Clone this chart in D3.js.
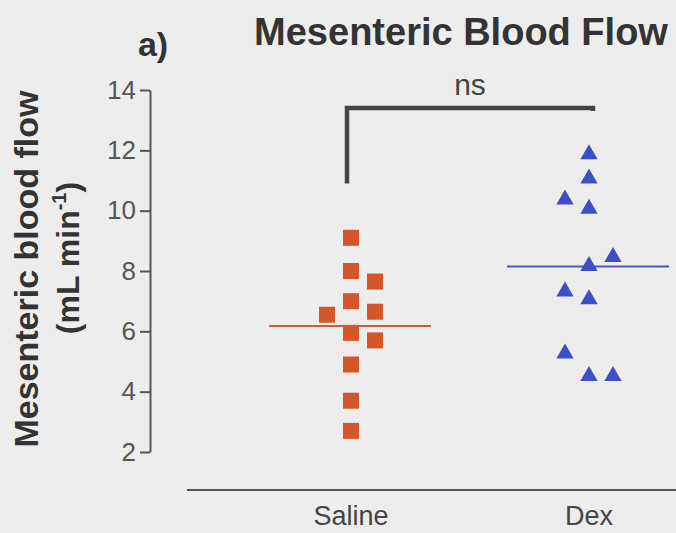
<!DOCTYPE html>
<meta charset="utf-8">
<style>
body { margin: 0; background: #ededed; }
svg { font-family: "Liberation Sans", Arial, sans-serif; }
.axis path, .axis line { stroke: #555; stroke-width: 2px; }
.axis text { fill: #555; font-size: 26px; font-family: "Liberation Sans", Arial, sans-serif; }
</style>
<body></body>
<script src="https://cdn.jsdelivr.net/npm/d3@7"></script>
<script>
// groups and the values
var groups = ["Saline", "Dex"];
var salineValues = [9.1, 8.0, 7.0, 7.65, 6.65, 6.55, 5.95, 5.7, 4.9, 3.7, 2.7];
var salineCols   = [0, 0, 0, 1, 1, -1, 0, 1, 0, 0, 0];
var dexValues = [11.9, 11.1, 10.4, 10.1, 8.5, 8.2, 7.35, 7.1, 5.3, 4.55, 4.55];
var dexCols   = [0, 0, -1, 0, 1, 0, -1, 0, -1, 0, 1];
var means = [6.18, 8.15];
var yTicks = [2, 4, 6, 8, 10, 12, 14];

var width = 676, height = 533;
var svg = d3.select("body").append("svg")
    .attr("width", width).attr("height", height);

var y = d3.scaleLinear().domain([2, 14]).range([452, 90]);
var x = d3.scalePoint().domain(groups).range([351, 589]);
var col = d3.scaleLinear().domain([-1, 1]).range([-24, 24]);

// y axis
svg.append("g")
    .attr("class", "axis")
    .attr("transform", "translate(150,0)")
    .call(d3.axisLeft(y).tickValues(yTicks).tickSize(10).tickSizeOuter(0).tickPadding(4));

// x axis baseline
svg.append("line")
    .attr("x1", 187).attr("x2", 676)
    .attr("y1", 490).attr("y2", 490)
    .attr("stroke", "#555").attr("stroke-width", 2);

svg.selectAll(".xlab").data(groups).enter().append("text")
    .attr("x", function(d) { return x(d); })
    .attr("y", 525)
    .attr("text-anchor", "middle")
    .style("font-size", "27px").style("fill", "#444")
    .text(function(d) { return d; });

// mean lines
var meanColors = ["#c9603a", "#4a55c0"];
svg.selectAll(".mean").data(means).enter().append("line")
    .attr("x1", function(d, i) { return x(groups[i]) - 82; })
    .attr("x2", function(d, i) { return x(groups[i]) + 80; })
    .attr("y1", function(d) { return y(d); })
    .attr("y2", function(d) { return y(d); })
    .attr("stroke", function(d, i) { return meanColors[i]; })
    .attr("stroke-width", 2);

// saline squares
var s = 16;
svg.selectAll(".sq").data(salineValues).enter().append("rect")
    .attr("x", function(d, i) { return x("Saline") + col(salineCols[i]) - s / 2; })
    .attr("y", function(d) { return y(d) - s / 2; })
    .attr("width", s).attr("height", s)
    .attr("fill", "#d4562b");

// dex triangles
var tri = d3.symbol().type(d3.symbolTriangle).size(130);
svg.selectAll(".tri").data(dexValues).enter().append("path")
    .attr("d", tri)
    .attr("transform", function(d, i) {
        return "translate(" + (x("Dex") + col(dexCols[i])) + "," + (y(d) + 1) + ")";
    })
    .attr("fill", "#3e4fc6");

// significance bracket
var bx1 = x("Saline") - 4, bx2 = x("Dex") + 4, by = 108;
svg.append("path")
    .attr("d", "M" + bx1 + "," + y(10.9) + "V" + by + "H" + bx2 + "V" + y(13.3))
    .attr("fill", "none").attr("stroke", "#444").attr("stroke-width", 4.5);
svg.append("text")
    .attr("x", (bx1 + bx2) / 2).attr("y", 95)
    .attr("text-anchor", "middle")
    .style("font-size", "30px").style("fill", "#444")
    .text("ns");

// titles
svg.append("text")
    .attr("x", 461).attr("y", 45)
    .attr("text-anchor", "middle")
    .style("font-size", "38px").style("font-weight", "bold").style("fill", "#333")
    .text("Mesenteric Blood Flow");
svg.append("text")
    .attr("x", 153).attr("y", 56)
    .attr("text-anchor", "middle")
    .style("font-size", "34px").style("font-weight", "bold").style("fill", "#333")
    .text("a)");

// y label, two lines
svg.append("text")
    .attr("transform", "translate(38,269) rotate(-90)")
    .attr("text-anchor", "middle")
    .style("font-size", "34px").style("font-weight", "bold").style("fill", "#333")
    .text("Mesenteric blood flow");
var l2 = svg.append("text")
    .attr("transform", "translate(79,258) rotate(-90)")
    .attr("text-anchor", "middle")
    .style("font-size", "32px").style("font-weight", "bold").style("fill", "#333");
l2.append("tspan").text("(mL min");
l2.append("tspan").attr("dy", -13).style("font-size", "20px").text("-1");
l2.append("tspan").attr("dy", 13).text(")");
</script>
